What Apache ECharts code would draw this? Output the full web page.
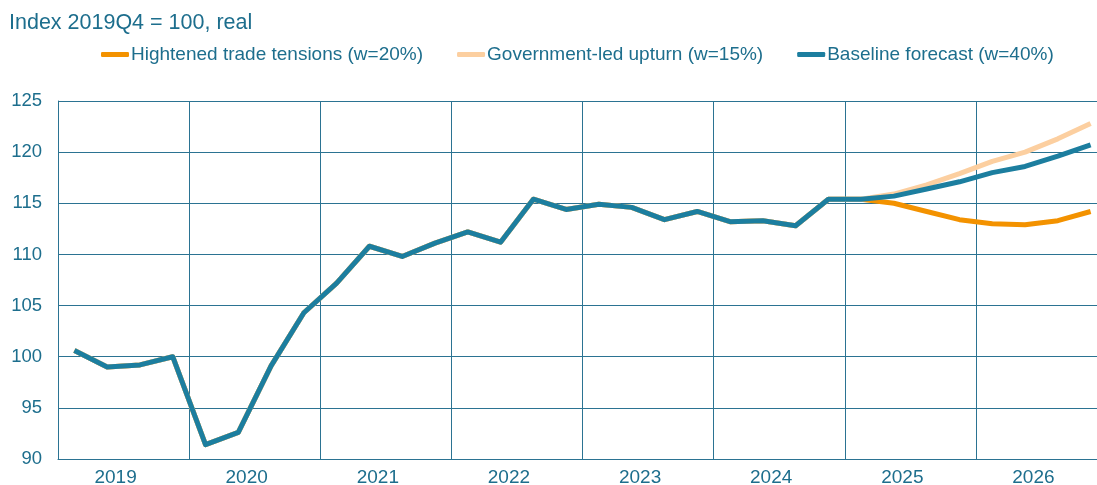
<!DOCTYPE html>
<html>
<head>
<meta charset="utf-8">
<script src="https://cdn.jsdelivr.net/npm/echarts@6/dist/echarts.min.js"></script>
<style>
  html, body { margin: 0; padding: 0; background: #fff; }
  #chart { width: 1097px; height: 485px; }
</style>
</head>
<body>
<div id="chart"></div>
<script>
// quarters 2019Q1 .. 2026Q4
const quarters = [
  '2019Q1', '2019Q2', '2019Q3', '2019Q4', '2020Q1', '2020Q2', '2020Q3', '2020Q4',
  '2021Q1', '2021Q2', '2021Q3', '2021Q4', '2022Q1', '2022Q2', '2022Q3', '2022Q4',
  '2023Q1', '2023Q2', '2023Q3', '2023Q4', '2024Q1', '2024Q2', '2024Q3', '2024Q4',
  '2025Q1', '2025Q2', '2025Q3', '2025Q4', '2026Q1', '2026Q2', '2026Q3', '2026Q4'
]
const years = ['2019', '2020', '2021', '2022', '2023', '2024', '2025', '2026']

// history up to 2025Q1 (shared by all scenarios)
const history = [
  100.6, 99.0, 99.2, 100.0, 91.4, 92.6, 99.1, 104.3,
  107.2, 110.8, 109.8, 111.1, 112.2, 111.2, 115.4, 114.4,
  114.9, 114.6, 113.4, 114.2, 113.2, 113.3, 112.8, 115.4,
  115.4
]
// forecasts 2025Q2 .. 2026Q4
const tradeTensions = [115.0, 114.2, 113.4, 113.0, 112.9, 113.3, 114.2]
const govUpturn = [115.9, 116.8, 117.9, 119.1, 120.0, 121.3, 122.8]
const baseline = [115.7, 116.4, 117.1, 118.0, 118.6, 119.6, 120.7]

const yTicks = { min: 90, max: 125, interval: 5 }

const teal = '#1d6e8d'
const gridColor = '#2b7392'
const font = 'Arial, "Liberation Sans", sans-serif'

const chart = echarts.init(document.getElementById('chart'))
const option = {
  animation: false,
  backgroundColor: '#fff',
  title: {
    text: 'Index 2019Q4 = 100, real',
    left: 9,
    top: 12,
    padding: 0,
    textStyle: {
      color: teal,
      fontFamily: font,
      fontSize: 21.5,
      fontWeight: 'normal'
    }
  },
  legend: {
    left: 101,
    top: 45,
    padding: 0,
    itemGap: 34,
    itemWidth: 28,
    itemHeight: 5,
    icon: 'roundRect',
    textStyle: {
      color: teal,
      fontFamily: font,
      fontSize: 19,
      padding: [0, 0, 0, -3]
    },
    data: [
      'Hightened trade tensions (w=20%)',
      'Government-led upturn (w=15%)',
      'Baseline forecast (w=40%)'
    ]
  },
  grid: {
    left: 58,
    top: 101,
    width: 1049,
    height: 358,
    outerBoundsMode: 'none'
  },
  xAxis: [
    {
      type: 'category',
      data: quarters,
      boundaryGap: true,
      show: false
    },
    {
      type: 'category',
      data: years,
      position: 'bottom',
      boundaryGap: true,
      axisLine: { show: true, lineStyle: { color: gridColor, width: 1 } },
      axisTick: { show: false },
      axisLabel: {
        color: teal,
        fontFamily: font,
        fontSize: 19,
        margin: 9,
        padding: [0, 16, 0, 0]
      },
      splitLine: { show: true, lineStyle: { color: gridColor, width: 1 } }
    }
  ],
  yAxis: {
    type: 'value',
    min: yTicks.min,
    max: yTicks.max,
    interval: yTicks.interval,
    axisLine: { show: true, lineStyle: { color: gridColor, width: 1 } },
    axisTick: { show: false },
    axisLabel: {
      color: teal,
      fontFamily: font,
      fontSize: 18.5,
      margin: 16
    },
    splitLine: { show: true, lineStyle: { color: gridColor, width: 1 } }
  },
  series: [
    {
      name: 'Hightened trade tensions (w=20%)',
      type: 'line',
      xAxisIndex: 0,
      data: history.concat(tradeTensions),
      symbol: 'none',
      lineStyle: { color: '#f39200', width: 5, join: 'round' },
      itemStyle: { color: '#f39200' }
    },
    {
      name: 'Government-led upturn (w=15%)',
      type: 'line',
      xAxisIndex: 0,
      data: history.concat(govUpturn),
      symbol: 'none',
      lineStyle: { color: '#fccfa0', width: 5, join: 'round' },
      itemStyle: { color: '#fccfa0' }
    },
    {
      name: 'Baseline forecast (w=40%)',
      type: 'line',
      xAxisIndex: 0,
      data: history.concat(baseline),
      symbol: 'none',
      lineStyle: { color: '#1c7e9f', width: 5, join: 'round' },
      itemStyle: { color: '#1c7e9f' }
    }
  ]
}
chart.setOption(option)
</script>
</body>
</html>
